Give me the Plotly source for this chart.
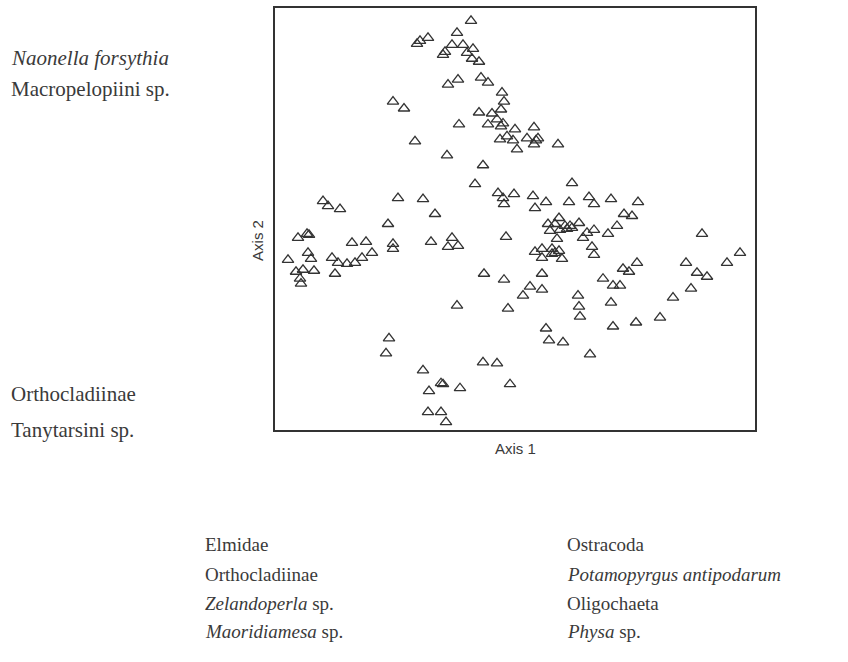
import plotly.graph_objects as go

# Site scores (Axis 1 = horizontal, Axis 2 = vertical, plotted downward-increasing)
axis1 = [471, 457, 428, 420, 417, 452, 463, 443, 445, 473, 467, 472, 479, 458, 448, 481, 488, 502, 504, 501,
         479, 492, 497, 488, 501, 503, 459, 515, 500, 507, 513, 517, 393, 404, 415, 447, 483, 534, 527, 538,
         536, 534, 558, 475, 398, 423, 323, 328, 340, 435, 498, 503, 504, 514, 572, 533, 546, 535, 569, 589,
         594, 611, 638, 624, 632, 548, 559, 555, 565, 570, 572, 579, 550, 560, 567, 587, 594, 583, 557, 608,
         617, 506, 535, 542, 552, 552, 555, 559, 542, 562, 592, 594, 637, 623, 629, 542, 504, 530, 542, 523,
         578, 603, 613, 620, 702, 740, 686, 727, 697, 707, 691, 673, 660, 611, 579, 580, 636, 613, 546, 549,
         563, 590, 508, 457, 388, 298, 307, 309, 352, 366, 393, 393, 372, 288, 308, 311, 332, 338, 347, 355,
         362, 296, 303, 314, 300, 301, 335, 431, 452, 448, 458, 484, 389, 386, 483, 497, 423, 443, 441, 429,
         460, 510, 428, 441, 446]
axis2 = [19, 31, 36, 39, 42, 43, 43, 53, 50, 47, 51, 57, 60, 78, 83, 76, 81, 91, 100, 108,
         111, 112, 118, 123, 125, 122, 123, 128, 138, 135, 139, 148, 100, 107, 140, 154, 164, 126, 137, 137,
         139, 143, 143, 183, 197, 198, 200, 205, 208, 213, 192, 197, 203, 193, 182, 195, 201, 207, 201, 196,
         203, 198, 201, 213, 215, 223, 217, 223, 225, 225, 227, 222, 230, 229, 228, 232, 229, 237, 238, 233,
         225, 236, 251, 248, 248, 253, 252, 250, 257, 258, 246, 254, 262, 268, 271, 273, 279, 286, 289, 295,
         295, 278, 285, 285, 233, 252, 262, 262, 272, 276, 288, 297, 317, 302, 306, 316, 322, 326, 328, 340,
         342, 354, 308, 305, 223, 237, 233, 234, 242, 241, 243, 248, 252, 259, 252, 258, 257, 262, 263, 262,
         257, 271, 269, 270, 278, 283, 273, 241, 237, 246, 245, 273, 338, 353, 362, 363, 370, 384, 383, 391,
         388, 384, 412, 412, 422]

axis1_range = [275, 755]
axis2_range = [430, 6]

left_labels = ["<i>Naonella forsythia</i>", "Macropelopiini sp.", "Orthocladiinae", "Tanytarsini sp."]
left_label_y = [56, 87, 394, 430]
bottom_col1 = ["Elmidae", "Orthocladiinae", "<i>Zelandoperla</i> sp.", "<i>Maoridiamesa</i> sp."]
bottom_col2 = ["Ostracoda", "<i>Potamopyrgus antipodarum</i>", "Oligochaeta", "<i>Physa</i> sp."]
bottom_row_y = [545, 575, 604, 632]

W, H = 848, 662
L, R, T, B = 275, 755, 6, 430


def px(x):
    return (x - L) / (R - L)


def py(y):
    return (B - y) / (B - T)


fig = go.Figure()
fig.add_trace(go.Scatter(
    x=axis1, y=axis2, mode="markers",
    marker=dict(symbol="triangle-up-open", size=10, color="#333333", line=dict(width=1.3, color="#333333")),
    hoverinfo="skip", showlegend=False,
))

serif = "Liberation Serif, Times New Roman, serif"
txt = "#3a3a3a"
ann = []
for t, y in zip(left_labels, left_label_y):
    ann.append(dict(text=t, x=px(9), y=py(y), xref="paper", yref="paper", xanchor="left", yanchor="middle",
                    showarrow=False, font=dict(family=serif, size=21, color=txt)))
for t, y in zip(bottom_col1, bottom_row_y):
    ann.append(dict(text=t, x=px(203), y=py(y), xref="paper", yref="paper", xanchor="left", yanchor="middle",
                    showarrow=False, font=dict(family=serif, size=19, color=txt)))
for t, y in zip(bottom_col2, bottom_row_y):
    ann.append(dict(text=t, x=px(565), y=py(y), xref="paper", yref="paper", xanchor="left", yanchor="middle",
                    showarrow=False, font=dict(family=serif, size=19, color=txt)))
ann.append(dict(text="Axis 1", x=px(515), y=py(449), xref="paper", yref="paper", xanchor="center",
                yanchor="middle", showarrow=False,
                font=dict(family="Liberation Sans, Arial, sans-serif", size=15, color=txt)))
ann.append(dict(text="Axis 2", x=px(258), y=py(240), xref="paper", yref="paper", xanchor="center",
                yanchor="middle", textangle=-90, showarrow=False,
                font=dict(family="Liberation Sans, Arial, sans-serif", size=15, color=txt)))

fig.update_layout(
    width=W, height=H,
    margin=dict(l=L, r=W - R, t=T, b=H - B),
    paper_bgcolor="white", plot_bgcolor="white",
    annotations=ann,
    xaxis=dict(range=axis1_range, showgrid=False, zeroline=False, showticklabels=False, ticks="",
               showline=True, mirror=True, linewidth=2, linecolor="#333333"),
    yaxis=dict(range=axis2_range, showgrid=False, zeroline=False, showticklabels=False, ticks="",
               showline=True, mirror=True, linewidth=2, linecolor="#333333"),
)

fig.write_html("out.html")
